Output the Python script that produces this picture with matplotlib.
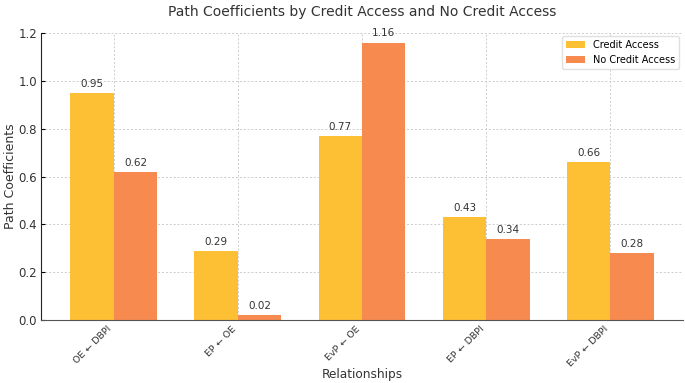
import matplotlib
matplotlib.use('Agg')
import matplotlib.pyplot as plt
import numpy as np

plt.rcParams.update({'font.size': 8, 'font.family': 'DejaVu Sans'})

relationships = ['OE ← DBPI', 'EP ← OE', 'EvP ← OE', 'EP ← DBPI', 'EvP ← DBPI']
credit = [0.95, 0.29, 0.77, 0.43, 0.66]
no_credit = [0.62, 0.02, 1.16, 0.34, 0.28]

fig = plt.figure(figsize=(6.85, 3.83), dpi=100)
ax = fig.add_axes([0.060, 0.164, 0.937, 0.750])

x = np.arange(len(relationships))
width = 0.35
b1 = ax.bar(x - width/2, credit, width, color='#FDBF33', label='Credit Access', zorder=2)
b2 = ax.bar(x + width/2, no_credit, width, color='#F78A4F', label='No Credit Access', zorder=2)

for bars, vals in [(b1, credit), (b2, no_credit)]:
    for bar, val in zip(bars, vals):
        ax.annotate(f'{val:.2f}', xy=(bar.get_x() + bar.get_width()/2, bar.get_height()),
                    xytext=(0, 3), textcoords='offset points',
                    ha='center', va='bottom', fontsize=7.5, color='#333333')

ax.set_xticks(x)
ax.set_xticklabels(relationships, rotation=45, ha='right', fontsize=6.8, color='#333333')
ax.set_ylim(0, 1.2)
ax.set_yticks(np.arange(0, 1.21, 0.2))
ax.set_yticklabels([f'{v:.1f}' for v in np.arange(0, 1.21, 0.2)], fontsize=8.5, color='#333333')
ax.tick_params(direction='in', length=3, pad=3)

ax.grid(True, linestyle=(0, (2, 2)), color='#cccccc', linewidth=0.7, zorder=0)
ax.set_axisbelow(True)
for s in ['top', 'right']:
    ax.spines[s].set_visible(False)
ax.spines['left'].set_color('#222222')
ax.spines['bottom'].set_color('#555555')

ax.set_xlabel('Relationships', fontsize=8.7, color='#333333', va='center')
ax.xaxis.set_label_coords(0.5, -0.188)
ax.set_ylabel('Path Coefficients', fontsize=9, color='#333333', labelpad=1)
ax.set_title('Path Coefficients by Credit Access and No Credit Access', fontsize=10,
             color='#333333', pad=12)
ax.legend(loc='upper right', fontsize=7, framealpha=0.9, edgecolor='#dddddd',
          bbox_to_anchor=(0.997, 0.995), borderaxespad=0.2)

fig.savefig('out.png', dpi=100)
